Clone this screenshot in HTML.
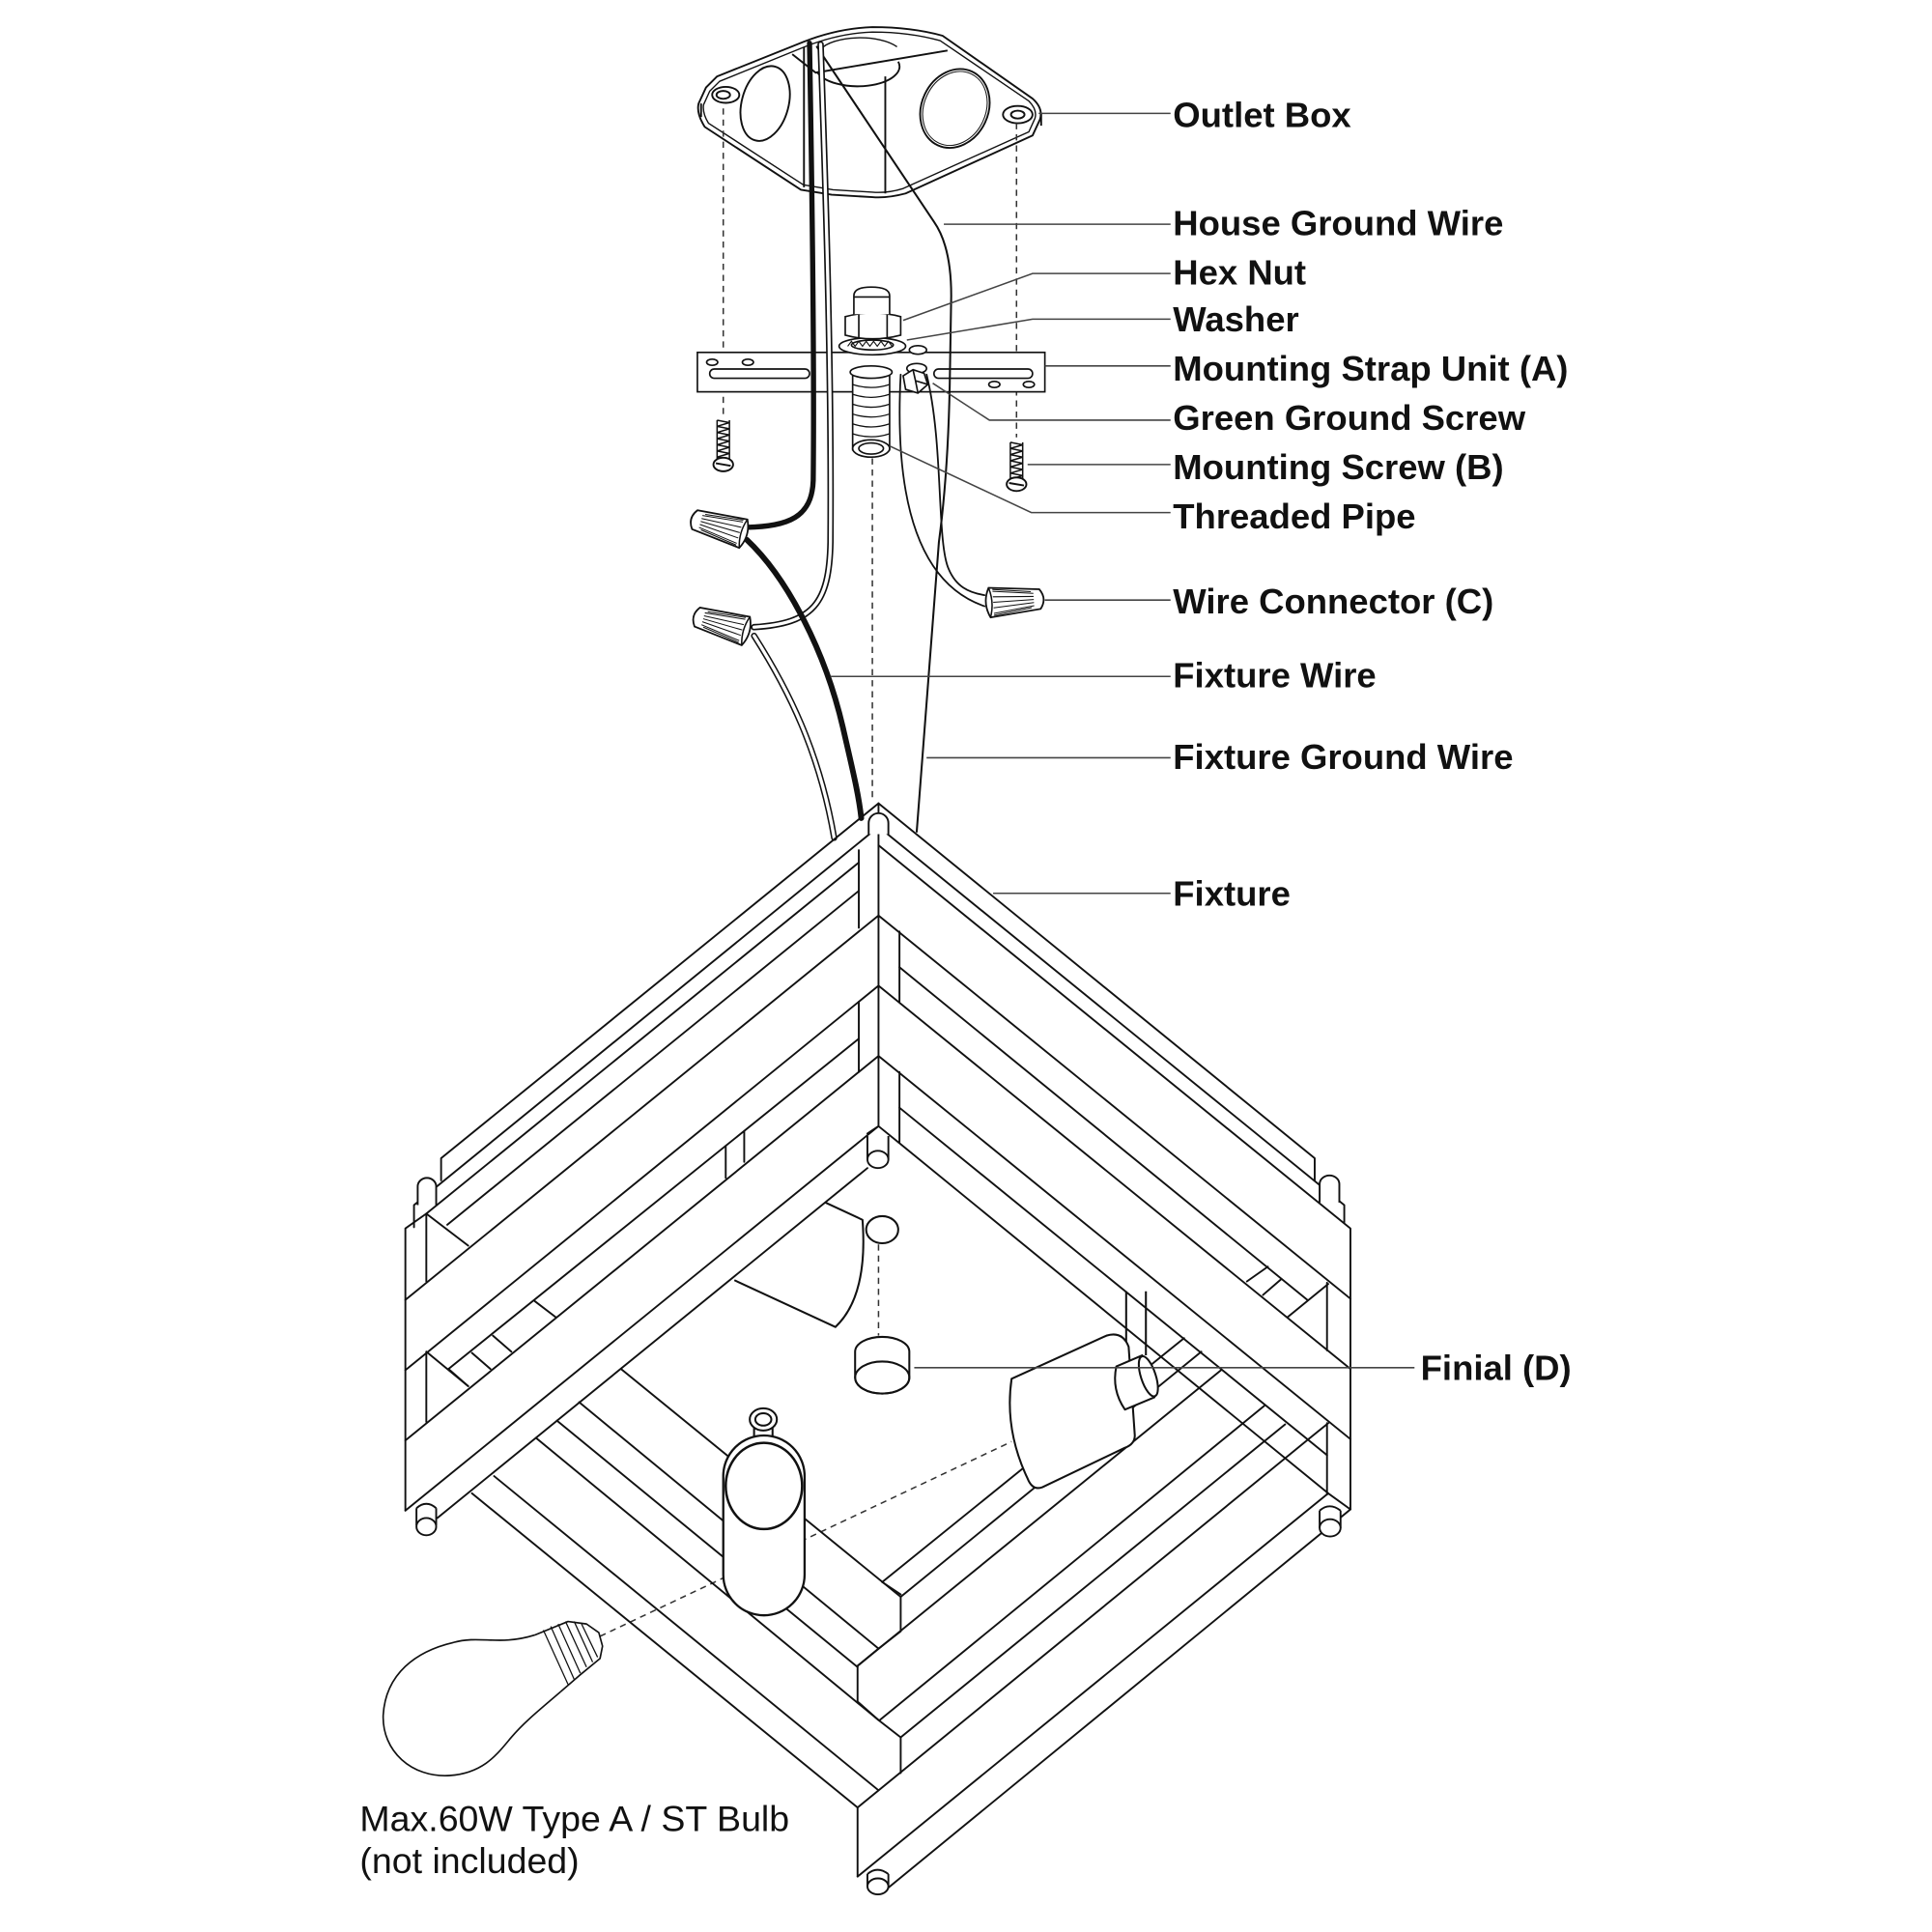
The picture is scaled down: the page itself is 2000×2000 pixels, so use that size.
<!DOCTYPE html>
<html>
<head>
<meta charset="utf-8">
<style>
html,body{margin:0;padding:0;background:#fff;}
svg{display:block;}
.t{font-family:"Liberation Sans",Arial,sans-serif;font-weight:bold;font-size:28.6px;fill:#111;}
.r{font-family:"Liberation Sans",Arial,sans-serif;font-size:29.4px;fill:#111;}
</style>
</head>
<body>
<svg width="2000" height="2000" viewBox="0 0 1568 1568" xmlns="http://www.w3.org/2000/svg">
<rect x="0" y="0" width="1568" height="1568" fill="#fff"/>
<defs>
<g id="wn">
<path d="M3,-8 Q-3,0 3,8 L44,12 Q50,0 44,-12 Z" fill="#fff" stroke="#111" stroke-width="1.4"/>
<path d="M8,-5 L41,-9 M8,-2.5 L41,-4.5 M8,0 L41,0 M8,2.5 L41,4.5 M8,5 L41,9 M10,-6.5 L41,-10.5 M10,6.5 L41,10.5" stroke="#111" stroke-width="0.8" fill="none"/>
<path d="M44,-12 Q40,0 44,12" stroke="#111" stroke-width="1.2" fill="none"/>
</g>
</defs>

<!-- ============ OUTLET BOX ============ -->
<g fill="none" stroke="#111" stroke-width="1.5" stroke-linejoin="round">
<path d="M582,62 L652,34 Q680,23 708,22 Q740,22 765,29 L838,80 Q847,88 844,97 L838,110 L735,157 Q720,161 708,160 L675,158 L650,154 L572,103 Q565,92 567,84 L573,71 Z"/>
<path d="M584,66 L653,38 Q681,27 708,26 Q738,26 763,33 L835,82 Q842,89 840,96 L835,107 L733,153 Q720,157 708,156 L676,154 L652,150 L575,100 Q570,92 571,85 L576,74 Z" stroke-width="1.1"/>
<path d="M643,44 L662,59 L769,41"/>
<path d="M663,58 A34,16 0 0 0 729,50" />
<path d="M666,40 A34,14 0 0 1 728,38" stroke-width="1.1"/>
<line x1="718.5" y1="62" x2="718.5" y2="157"/>
<line x1="652.5" y1="38" x2="652.5" y2="152"/>
<ellipse cx="621" cy="84" rx="19" ry="31" transform="rotate(15 621 84)"/>
<ellipse cx="775" cy="88" rx="27" ry="33" transform="rotate(25 775 88)"/>
<ellipse cx="775" cy="88" rx="25" ry="31" transform="rotate(25 775 88)" stroke-width="0.8"/>
<ellipse cx="589" cy="77" rx="11" ry="6.5" fill="#fff"/>
<ellipse cx="587" cy="77" rx="5.5" ry="3.2"/>
<ellipse cx="826" cy="93" rx="12" ry="7" fill="#fff"/>
<ellipse cx="826" cy="93" rx="5.5" ry="3.2"/>
<path d="M569,84 L569,95 M845,92 L845,102"/>
</g>

<!-- dashed alignment lines -->
<g stroke="#333" stroke-width="1.2" stroke-dasharray="5 4" fill="none">
<line x1="587" y1="88" x2="587" y2="338"/>
<line x1="825" y1="100" x2="825" y2="355"/>
<line x1="708" y1="372" x2="708" y2="650"/>
<line x1="713" y1="1010" x2="713" y2="1084"/>
<line x1="487" y1="1328" x2="821" y2="1170"/>
</g>

<!-- ============ MOUNTING STRAP ============ -->
<g fill="none" stroke="#111" stroke-width="1.3">
<rect x="566" y="286" width="282" height="32" fill="#fff"/>
<rect x="576" y="299.5" width="81" height="7.5" rx="3.7"/>
<rect x="758" y="299.5" width="80" height="7.5" rx="3.7"/>
<ellipse cx="578" cy="294" rx="4.5" ry="2.5"/>
<ellipse cx="607" cy="294" rx="4.5" ry="2.5"/>
<ellipse cx="807" cy="312" rx="4.5" ry="2.5"/>
<ellipse cx="835" cy="312" rx="4.5" ry="2.5"/>
<!-- threaded pipe -->
<rect x="692" y="302" width="30" height="63" fill="#fff"/>
<ellipse cx="707" cy="302" rx="17" ry="5" fill="#fff"/>
<path d="M692,312 Q707,317 722,312 M692,320 Q707,325 722,320 M692,328 Q707,333 722,328 M692,336 Q707,341 722,336 M692,344 Q707,349 722,344 M692,352 Q707,357 722,352" stroke-width="1"/>
<ellipse cx="707" cy="364" rx="15" ry="7" fill="#fff"/>
<ellipse cx="707" cy="364" rx="10" ry="4.5"/>
<!-- washer -->
<ellipse cx="708" cy="281" rx="27" ry="7" fill="#fff"/>
<ellipse cx="708" cy="280" rx="17" ry="4"/>
<path d="M688,281 l3,-4 l3,4 l3,-4 l3,4 l3,-4 l3,4 l3,-4 l3,4 l3,-4 l3,4 l3,-4 l3,4" stroke-width="0.9"/>
<!-- hex nut -->
<path d="M686,257 Q708,251 731,257 L731,272 Q708,278 686,272 Z" fill="#fff"/>
<path d="M697,255 L697,275 M720,255 L720,275"/>
<!-- upper fitting -->
<path d="M693,255 V240 Q693,233 707,233 Q722,233 722,240 V255" fill="#fff"/>
<line x1="693" y1="241" x2="722" y2="241"/>
<!-- bump -->
<ellipse cx="745" cy="284" rx="7" ry="3.5" fill="#fff"/>
<!-- green ground screw -->
<ellipse cx="744" cy="299" rx="8" ry="4" fill="#fff"/>
<path d="M733,305 L741,300 L750,303 L753,312 L745,319 L735,316 Z" fill="#fff"/>
<path d="M741,300 L743,309 L753,312 M743,309 L745,319"/>
</g>

<!-- mounting screws -->
<g fill="none" stroke="#111" stroke-width="1.2">
<path d="M582,341 L592,343 L582,346 L592,348 L582,351 L592,353 L582,356 L592,358 L582,361 L592,363 L582,366 L592,368 L582,371 L592,373"/>
<line x1="582" y1="341" x2="582" y2="373"/><line x1="592" y1="341" x2="592" y2="373"/>
<ellipse cx="587" cy="377" rx="8" ry="5.5" fill="#fff" stroke-width="1.5"/>
<path d="M581,376 L593,378" stroke-width="1.5"/>
<path d="M820,359 L830,361 L820,364 L830,366 L820,369 L830,371 L820,374 L830,376 L820,379 L830,381 L820,384 L830,386 L820,389"/>
<line x1="820" y1="359" x2="820" y2="389"/><line x1="830" y1="359" x2="830" y2="389"/>
<ellipse cx="825" cy="393" rx="8" ry="5.5" fill="#fff" stroke-width="1.5"/>
<path d="M819,392 L831,394" stroke-width="1.5"/>
</g>

<!-- ============ WIRES ============ -->
<g fill="none" stroke-linecap="round">
<path d="M663,38 L758,180 Q772,200 772,240 L771,300 Q770,380 762,440 L744,675" stroke="#111" stroke-width="1.6"/>
<path d="M731,304 C727,380 735,470 799,492" stroke="#111" stroke-width="1.4"/>
<path d="M752,304 C766,360 760,440 770,462 C776,476 786,481 799,483" stroke="#111" stroke-width="1.4"/>
<path d="M666,36 C670,150 675,300 674,440 C673,490 660,506 612,509" stroke="#111" stroke-width="5.2"/>
<path d="M666,36 C670,150 675,300 674,440 C673,490 660,506 612,509" stroke="#fff" stroke-width="2.6"/>
<path d="M657,35 C659,150 661,300 660,390 C659,420 640,427 606,428" stroke="#111" stroke-width="4.2"/>
<path d="M612,516 C640,560 665,610 677,680" stroke="#111" stroke-width="5"/>
<path d="M612,516 C640,560 665,610 677,680" stroke="#fff" stroke-width="2.6"/>
<path d="M606,438 C640,470 670,530 684,590 C692,625 697,645 699,664" stroke="#111" stroke-width="4.6"/>
</g>

<!-- wire connectors -->
<use href="#wn" transform="translate(561,421) rotate(16)"/>
<use href="#wn" transform="translate(563,500) rotate(16)"/>
<use href="#wn" transform="translate(847,486) rotate(176)"/>

<!-- ============ FIXTURE ============ -->
<g fill="none" stroke="#111" stroke-width="1.5" stroke-linecap="round" stroke-linejoin="round">
<!-- left face -->
<path d="M713,652 L358,940 L358,958"/>
<path d="M713,671 L336,978 L336,996"/>
<path d="M697,700 L346,985"/>
<path d="M697,723 L363,994"/>
<path d="M329,997 L346,985 L380,1011 M329,997 L329,1226 M346,985 L346,1040 M346,1097 L346,1154 M346,1097 L380,1125"/>
<path d="M713,743 L329,1055"/>
<path d="M713,800 L329,1112"/>
<path d="M697,843 L364,1111"/>
<path d="M604,918 L604,943 M589,930 L589,956"/>
<path d="M364,1111 L380,1125 M383,1098 L398,1111 M400,1084 L415,1097 M434,1056 L451,1069"/>
<path d="M713,857 L329,1169"/>
<path d="M713,914 L329,1226"/>
<path d="M704,948 L355,1232"/>
<!-- back post -->
<path d="M713,652 L713,914 M697,690 L697,753 M697,813 L697,870 M730,756 L730,813 M730,870 L730,927 M713,914 L729,927 M713,914 L704,920"/>
<!-- right face -->
<path d="M713,652 L1067,940 L1067,958"/>
<path d="M713,671 L1091,978 L1091,992"/>
<path d="M713,686 L1096,997 L1096,1225"/>
<path d="M713,743 L1096,1054"/>
<path d="M730,785 L1061,1055"/>
<path d="M1012,1040 L1029,1028 M1025,1051 L1040,1038"/>
<path d="M1078,1042 L1045,1069"/>
<path d="M713,800 L1096,1111"/>
<path d="M713,857 L1096,1168"/>
<path d="M730,899 L1077,1181"/>
<path d="M729,927 L1078,1212 L1096,1225"/>
<path d="M1077,1041 L1077,1096 M1077,1155 L1077,1213 M1062,1168 L1078,1155"/>
<!-- lower-left bottom bars -->
<path d="M383,1212 L696,1467"/>
<path d="M401,1198 L713,1453"/>
<path d="M435,1167 L713,1396"/>
<path d="M452,1153 L696,1353"/>
<path d="M470,1138 L713,1338"/>
<path d="M504,1111 L731,1296"/>
<!-- bottom post -->
<path d="M696,1467 L696,1523 M696,1352 L696,1381 M731,1410 L731,1439 M731,1296 L731,1324 M731,1324 L713,1338 L696,1352 M696,1381 L713,1396 L731,1410 M716,1284 L731,1294"/>
<!-- lower-right bottom bars -->
<path d="M721,1532 L1096,1225"/>
<path d="M696,1523 L1078,1212"/>
<path d="M696,1467 L1062,1168"/>
<path d="M731,1410 L1043,1156"/>
<path d="M714,1396 L1026,1141"/>
<path d="M696,1352 L991,1112"/>
<path d="M731,1296 L975,1097"/>
<path d="M716,1284 L961,1086"/>
</g>

<!-- finials on frame -->
<g fill="#fff" stroke="#111" stroke-width="1.5">
<path d="M705,677 V668 A8,8 0 0 1 721,668 V677"/>
<path d="M339,978 V963 A7.5,7 0 0 1 354,963 V978"/>
<path d="M1071,976 V961 A8,7 0 0 1 1087,961 V976"/>
<path d="M704,922 V941 L721,941 V922 Z" stroke="none"/>
<path d="M704,922 V941 M721,922 V941"/>
<ellipse cx="712.5" cy="941" rx="8.5" ry="7"/>
<path d="M338,1224 V1238 L354,1238 V1224 Z" stroke="none"/>
<path d="M338,1224 V1238 M354,1224 V1238 M338,1224 Q346,1217 354,1224"/>
<ellipse cx="346" cy="1239" rx="8" ry="7"/>
<path d="M1071,1226 V1240 L1088,1240 V1226 Z" stroke="none"/>
<path d="M1071,1226 V1240 M1088,1226 V1240 M1071,1226 Q1079,1219 1088,1226"/>
<ellipse cx="1079.5" cy="1240" rx="8.5" ry="7"/>
<path d="M704,1521 V1531 L721,1531 V1521 Z" stroke="none"/>
<path d="M704,1521 V1531 M721,1521 V1531 M704,1521 Q712,1514 721,1521"/>
<ellipse cx="712.5" cy="1531" rx="8.5" ry="6.5"/>
</g>

<!-- sockets, finial, pendant -->
<g fill="none" stroke="#111" stroke-width="1.6" stroke-linejoin="round">
<path d="M670,976 L700,990 C703,1030 696,1060 678,1077 L596,1039"/>
<ellipse cx="716" cy="998" rx="13" ry="11"/>
<path d="M694,1097 A22,12 0 0 1 738,1097 V1118 A22,13 0 0 1 694,1118 Z" fill="#fff"/>
<ellipse cx="716" cy="1118" rx="22" ry="13"/>
<path d="M914,1048 L914,1104 M930,1048 L930,1100"/>
<path d="M821,1119 L898,1084 Q911,1080 916,1093 L921,1165 Q921,1172 913,1175 L846,1207 Q838,1210 834,1200 Q815,1160 821,1119 Z" fill="#fff"/>
<path d="M906,1109 L927,1100 L937,1134 L913,1144 Q902,1128 906,1109 Z" fill="#fff"/>
<ellipse cx="932" cy="1117" rx="6" ry="17" transform="rotate(-18 932 1117)" fill="#fff"/>
<path d="M612,1166 V1156 M627,1166 V1156"/>
<ellipse cx="619.5" cy="1152" rx="11" ry="9" fill="#fff"/>
<ellipse cx="619.5" cy="1152" rx="6.5" ry="5"/>
<path d="M587,1198 A33,33 0 0 1 653,1198 V1278 A33,33 0 0 1 587,1278 Z" fill="#fff" stroke-width="1.8"/>
<ellipse cx="620" cy="1206" rx="31" ry="35" stroke-width="2"/>
</g>

<!-- bulb -->
<g fill="none" stroke="#111" stroke-width="1.3" stroke-linejoin="round">
<path d="M434,1327 C405,1336 390,1327 368,1333 C338,1340 313,1358 311,1392 C310,1421 334,1443 365,1441 C393,1439 404,1423 415,1410 C426,1397 440,1386 455,1373"/>
<path d="M434,1327 L461,1316 L476,1318 L486,1325 L489,1336 L487,1346 L470,1360 L455,1373"/>
<path d="M441,1323 L461,1367 M447,1320 L466,1363 M453,1318 L471,1358 M459,1316 L476,1353 M466,1316 L481,1349 M472,1318 L485,1345" stroke-width="1"/>
</g>

<!-- ============ LEADER LINES ============ -->
<g fill="none" stroke="#444" stroke-width="1.2">
<path d="M843,92 H950"/>
<path d="M766,182 H950"/>
<path d="M733,260 L838,222 H950"/>
<path d="M736,276 L838,259 H950"/>
<path d="M848,297 H950"/>
<path d="M757,311 L803,341 H950"/>
<path d="M834,377 H950"/>
<path d="M722,362 L837,416 H950"/>
<path d="M848,487 H950"/>
<path d="M674,549 H950"/>
<path d="M752,615 H950"/>
<path d="M806,725 H950"/>
<path d="M742,1110 H1148"/>
</g>

<!-- ============ LABELS ============ -->
<text class="t" x="952" y="103">Outlet Box</text>
<text class="t" x="952" y="191">House Ground Wire</text>
<text class="t" x="952" y="231">Hex Nut</text>
<text class="t" x="952" y="269">Washer</text>
<text class="t" x="952" y="309">Mounting Strap Unit (A)</text>
<text class="t" x="952" y="349">Green Ground Screw</text>
<text class="t" x="952" y="389">Mounting Screw (B)</text>
<text class="t" x="952" y="429">Threaded Pipe</text>
<text class="t" x="952" y="498">Wire Connector (C)</text>
<text class="t" x="952" y="558">Fixture Wire</text>
<text class="t" x="952" y="624">Fixture Ground Wire</text>
<text class="t" x="952" y="735">Fixture</text>
<text class="t" x="1153" y="1120">Finial (D)</text>
<text class="r" x="292" y="1486">Max.60W Type A / ST Bulb</text>
<text class="r" x="292" y="1520">(not included)</text>
</svg>
</body>
</html>
